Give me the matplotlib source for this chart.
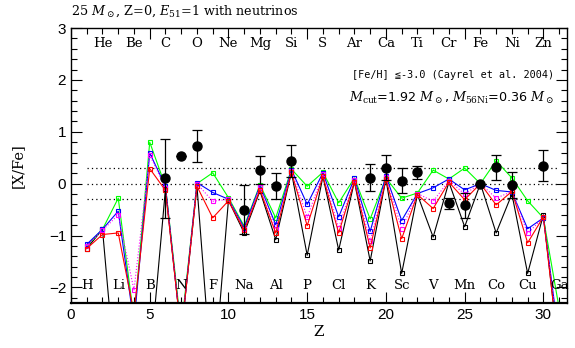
import numpy as np
import matplotlib
matplotlib.use("Agg")
import matplotlib.pyplot as plt
from matplotlib.ticker import MultipleLocator

# atomic number and element names
z = np.arange(1, 32)
elem_odd = ['H', 'Li', 'B', 'N', 'F', 'Na', 'Al', 'P', 'Cl', 'K', 'Sc', 'V', 'Mn', 'Co', 'Cu', 'Ga']
elem_even = ['He', 'Be', 'C', 'O', 'Ne', 'Mg', 'Si', 'S', 'Ar', 'Ca', 'Ti', 'Cr', 'Fe', 'Ni', 'Zn']

# model yields [X/Fe]
black = [-1.25, -0.88, -4.3, -4.0, -3.5, -0.10, -2.9, -0.05, -4.0, -0.32, -0.95, -0.14, -1.08, 0.22,
         -1.38, 0.14, -1.28, 0.04, -1.49, 0.09, -1.73, -0.21, -1.03, 0.03, -0.83, 0.0, -0.95, -0.20,
         -1.73, -0.60, -3.3]
green = [-1.20, -0.88, -0.28, -2.6, 0.80, -0.05, -2.8, 0.0, 0.21, -0.27, -0.82, -0.02, -0.66, 0.28,
         -0.05, 0.22, -0.37, 0.11, -0.68, 0.11, -0.28, -0.18, 0.26, 0.09, 0.30, 0.0, 0.44, 0.11,
         -0.33, -0.66, -2.4]
blue = [-1.17, -0.88, -0.53, -2.7, 0.59, -0.05, -2.9, 0.02, -0.17, -0.30, -0.85, -0.04, -0.79, 0.27,
        -0.40, 0.21, -0.64, 0.10, -0.92, 0.15, -0.71, -0.19, -0.08, 0.09, -0.12, 0.0, -0.13, -0.16,
        -0.87, -0.66, -3.0]
magenta = [-1.20, -0.90, -0.60, -2.05, 0.55, -0.08, -2.9, 0.0, -0.34, -0.30, -0.88, -0.06, -0.88, 0.25,
           -0.65, 0.18, -0.85, 0.07, -1.11, 0.12, -0.87, -0.19, -0.34, 0.06, -0.20, 0.0, -0.28, -0.15,
           -0.96, -0.65, -3.1]
red = [-1.25, -0.98, -0.95, -2.5, 0.29, -0.13, -2.9, -0.05, -0.66, -0.33, -0.90, -0.12, -0.95, 0.22,
       -0.81, 0.14, -0.95, 0.04, -1.24, 0.09, -1.06, -0.21, -0.48, 0.03, -0.31, 0.0, -0.41, -0.15,
       -1.14, -0.64, -3.3]

# observations (Cayrel et al. 2004)
obs_z = [6, 7, 8, 11, 12, 13, 14, 19, 20, 21, 22, 24, 25, 26, 27, 28, 30]
obs_val = [0.10, 0.54, 0.73, -0.50, 0.27, -0.05, 0.43, 0.11, 0.31, 0.06, 0.22, -0.38, -0.42, 0.0,
           0.32, -0.03, 0.35]
obs_err = [0.77, 0.0, 0.31, 0.47, 0.27, 0.25, 0.31, 0.26, 0.24, 0.24, 0.13, 0.10, 0.24, 0.0,
           0.24, 0.25, 0.30]

serif = 'DejaVu Serif'
plt.rcParams['font.family'] = 'Liberation Sans'
plt.rcParams['mathtext.fontset'] = 'dejavuserif'

fig = plt.figure(figsize=(5.75, 3.48), dpi=100)
ax = fig.add_axes([71/575, 1-303/348, (567-71)/575, (303-28)/348])

# reference levels
for lev in [-0.3, 0.0, 0.3]:
    ax.plot([1, 31], [lev, lev], color='k', ls=(0, (1, 2.5)), lw=0.9)

kw = dict(marker='s', ms=3.2, mfc='none', mew=0.8, lw=0.8)
ax.plot(z, black, color='k', **kw)
ax.plot(z, green, color='#00ff00', **kw)
ax.plot(z, blue, color='#0000ff', **kw)
ax.plot(z, magenta, color='#ff00ff', ls=':', **kw)
ax.plot(z, red, color='#ff0000', **kw)

ax.errorbar(obs_z, obs_val, yerr=obs_err, fmt='o', color='k', ms=6.5, elinewidth=0.9,
            capsize=3.5, capthick=0.9, zorder=5)

for i, name in enumerate(elem_odd):
    ax.text(2*i + 1, -1.97, name, ha='center', va='center', fontsize=9.5, family=serif)
for i, name in enumerate(elem_even):
    ax.text(2*i + 2, 2.71, name, ha='center', va='center', fontsize=9.5, family=serif)

ax.set_xlim(0, 31.5)
ax.set_ylim(-2.3, 3)
ax.xaxis.set_major_locator(MultipleLocator(5))
ax.xaxis.set_minor_locator(MultipleLocator(1))
ax.yaxis.set_major_locator(MultipleLocator(1))
ax.yaxis.set_minor_locator(MultipleLocator(0.2))
ax.tick_params(which='both', direction='in', top=True, right=True, labelsize=11, width=0.8)
ax.tick_params(which='major', length=8)
ax.tick_params(which='minor', length=4)
for s in ax.spines.values():
    s.set_linewidth(1.0)
ax.spines['bottom'].set_linewidth(1.6)

ax.set_xlabel('Z', fontsize=11, family=serif, labelpad=2)
ax.set_ylabel('[X/Fe]', fontsize=10.5, family=serif)
ax.yaxis.set_label_coords(-0.092, 0.5)

fig.text(71/575, 1-11/348, r'25 $M_\odot$, Z=0, $E_{51}$=1 with neutrinos', fontsize=9.2,
         family=serif, va='center')
ax.text(30.7, 2.1, '[Fe/H] \u2266-3.0 (Cayrel et al. 2004)', ha='right', va='center',
        fontsize=7.3, family='DejaVu Sans Mono')
ax.text(30.7, 1.66, r'$M_{\rm cut}$=1.92 $M_\odot$, $M_{\rm 56Ni}$=0.36 $M_\odot$', ha='right',
        va='center', fontsize=9.2, family='DejaVu Sans')

fig.savefig('out.png', dpi=100)
